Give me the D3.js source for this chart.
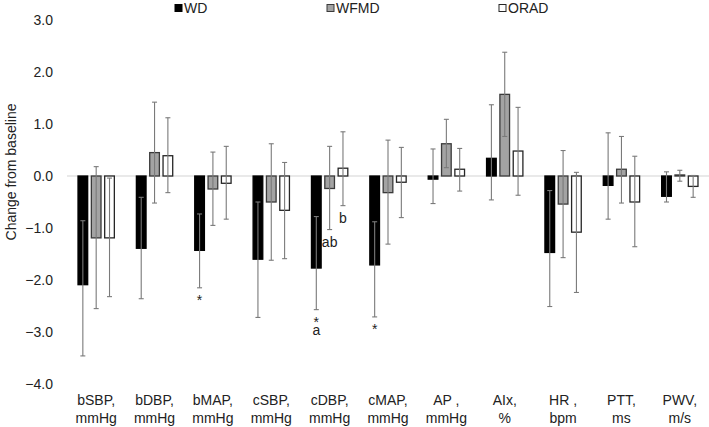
<!DOCTYPE html>
<html>
<head>
<meta charset="utf-8">
<script src="https://cdn.jsdelivr.net/npm/d3@7"></script>
<style>
  html, body { margin: 0; padding: 0; background: #fff; }
  svg { display: block; font-family: "Liberation Sans", Arial, sans-serif; }
</style>
</head>
<body>
<svg id="chart" width="709" height="427"></svg>
<script>
const categories = ["bSBP", "bDBP", "bMAP", "cSBP", "cDBP", "cMAP", "AP", "AIx", "HR", "PTT", "PWV"];
const labelLine1 = ["bSBP,", "bDBP,", "bMAP,", "cSBP,", "cDBP,", "cMAP,", "AP ,", "AIx,", "HR ,", "PTT,", "PWV,"];
const labelLine2 = ["mmHg", "mmHg", "mmHg", "mmHg", "mmHg", "mmHg", "mmHg", "%", "bpm", "ms", "m/s"];
const seriesNames = ["WD", "WFMD", "ORAD"];

const wdValues   = [-2.09, -1.39, -1.43, -1.60, -1.77, -1.71, -0.06, 0.34, -1.47, -0.18, -0.39];
const wdUpper    = [-0.86, -0.41, -0.73, -0.50, -0.78, -0.88, 0.52, 1.37, -0.28, 0.83, 0.08];
const wdLower    = [-3.46, -2.36, -2.15, -2.72, -2.57, -2.71, -0.53, -0.46, -2.51, -0.83, -0.50];

const wfmdValues = [-1.19, 0.45, -0.25, -0.50, -0.24, -0.32, 0.62, 1.57, -0.54, 0.13, 0.02];
const wfmdUpper  = [0.18, 1.42, 0.46, 0.62, 0.57, 0.69, 1.09, 2.38, 0.49, 0.76, 0.11];
const wfmdLower  = [-2.55, -0.52, -0.95, -1.62, -1.03, -1.31, 0.16, 0.76, -1.57, -0.52, -0.10];

const oradValues = [-1.19, 0.39, -0.14, -0.66, 0.15, -0.12, 0.13, 0.48, -1.08, -0.50, -0.20];
const oradUpper  = [-0.04, 1.12, 0.57, 0.26, 0.85, 0.55, 0.53, 1.32, 0.07, 0.38, 0.01];
const oradLower  = [-2.32, -0.32, -0.83, -1.59, -0.57, -0.80, -0.29, -0.37, -2.24, -1.36, -0.41];

const yTicks = [-4, -3, -2, -1, 0, 1, 2, 3];

// significance annotations (category, series, marks)
const annotCategory = ["bMAP", "cDBP", "cDBP", "cDBP", "cMAP"];
const annotSeries   = ["WD", "WD", "WFMD", "ORAD", "WD"];
const annotText     = [["*"], ["*", "a"], ["ab"], ["b"], ["*"]];

const seriesData = {
  WD:   { values: wdValues,   upper: wdUpper,   lower: wdLower,   fill: "#000000", stroke: "#000000" },
  WFMD: { values: wfmdValues, upper: wfmdUpper, lower: wfmdLower, fill: "#a3a3a3", stroke: "#3a3a3a" },
  ORAD: { values: oradValues, upper: oradUpper, lower: oradLower, fill: "#ffffff", stroke: "#262626" }
};

const svg = d3.select("#chart");
const x = d3.scaleBand().domain(categories).range([67, 709]).padding(0);
const xs = d3.scaleBand().domain(seriesNames).range([-20, 20]).paddingInner(0.2).paddingOuter(0.1);
const y = d3.scaleLinear().domain([-4, 3]).range([384, 20]);

// y tick labels (no axis line)
const yAxis = d3.axisLeft(y).tickValues(yTicks).tickFormat(d3.format(".1f")).tickSize(0).tickPadding(0);
const yg = svg.append("g").attr("transform", "translate(53,0)").call(yAxis);
yg.select(".domain").remove();
yg.selectAll("text").attr("font-size", 14).attr("fill", "#222").attr("font-family", "Liberation Sans, Arial, sans-serif");

// y title
svg.append("text")
  .attr("transform", "translate(16,172) rotate(-90)")
  .attr("text-anchor", "middle")
  .attr("font-size", 14).attr("fill", "#222")
  .text("Change from baseline");

// zero line
svg.append("line")
  .attr("x1", x.range()[0]).attr("x2", x.range()[1])
  .attr("y1", y(0)).attr("y2", y(0))
  .attr("stroke", "#d4d4d4").attr("stroke-width", 1.2);

// bars
const flat = [];
seriesNames.forEach(s => {
  categories.forEach((c, i) => {
    flat.push({ s, c, v: seriesData[s].values[i], hi: seriesData[s].upper[i], lo: seriesData[s].lower[i] });
  });
});

const cx = d => x(d.c) + x.bandwidth() / 2 + xs(d.s);

svg.append("g").selectAll("rect").data(flat).join("rect")
  .attr("x", d => cx(d) + 0.5)
  .attr("y", d => Math.min(y(d.v), y(0)))
  .attr("width", xs.bandwidth() - 1)
  .attr("height", d => Math.abs(y(d.v) - y(0)))
  .attr("fill", d => seriesData[d.s].fill)
  .attr("stroke", d => seriesData[d.s].stroke)
  .attr("stroke-width", 1.3);

// error bars
const eg = svg.append("g").attr("stroke", "#7a7a7a").attr("stroke-width", 1.1);
const ex = d => cx(d) + xs.bandwidth() / 2;
eg.selectAll("line.v").data(flat).join("line").attr("class", "v")
  .attr("x1", ex).attr("x2", ex)
  .attr("y1", d => y(d.hi)).attr("y2", d => y(d.lo));
eg.selectAll("line.t").data(flat).join("line").attr("class", "t")
  .attr("x1", d => ex(d) - 2.5).attr("x2", d => ex(d) + 2.5)
  .attr("y1", d => y(d.hi)).attr("y2", d => y(d.hi));
eg.selectAll("line.b").data(flat).join("line").attr("class", "b")
  .attr("x1", d => ex(d) - 2.5).attr("x2", d => ex(d) + 2.5)
  .attr("y1", d => y(d.lo)).attr("y2", d => y(d.lo));

// annotations (stacked marks share one text element)
annotCategory.forEach((c, k) => {
  const s = annotSeries[k];
  const i = categories.indexOf(c);
  const px = ex({ c, s });
  const base = y(seriesData[s].lower[i]) + 17;
  const t = svg.append("text")
    .attr("text-anchor", "middle")
    .attr("font-size", 14).attr("fill", "#222");
  annotText[k].forEach((m, j) => {
    t.append("tspan").attr("x", px).attr("y", base + j * 8.5).text(m);
  });
});

// x labels
const xl = svg.append("g");
categories.forEach((c, i) => {
  const t = xl.append("text")
    .attr("x", x(c) + x.bandwidth() / 2)
    .attr("text-anchor", "middle")
    .attr("font-size", 14).attr("fill", "#222");
  t.append("tspan").attr("x", x(c) + x.bandwidth() / 2).attr("y", 405).text(labelLine1[i]);
  t.append("tspan").attr("x", x(c) + x.bandwidth() / 2).attr("y", 423).text(labelLine2[i]);
});

// legend
const legendX = [175, 327, 499];
const lg = svg.append("g");
seriesNames.forEach((s, i) => {
  lg.append("rect")
    .attr("x", legendX[i]).attr("y", 4.5)
    .attr("width", 7).attr("height", 7)
    .attr("fill", seriesData[s].fill)
    .attr("stroke", seriesData[s].stroke).attr("stroke-width", 1);
  lg.append("text")
    .attr("x", legendX[i] + 9).attr("y", 13)
    .attr("font-size", 14).attr("fill", "#222")
    .text(s);
});
</script>
</body>
</html>
